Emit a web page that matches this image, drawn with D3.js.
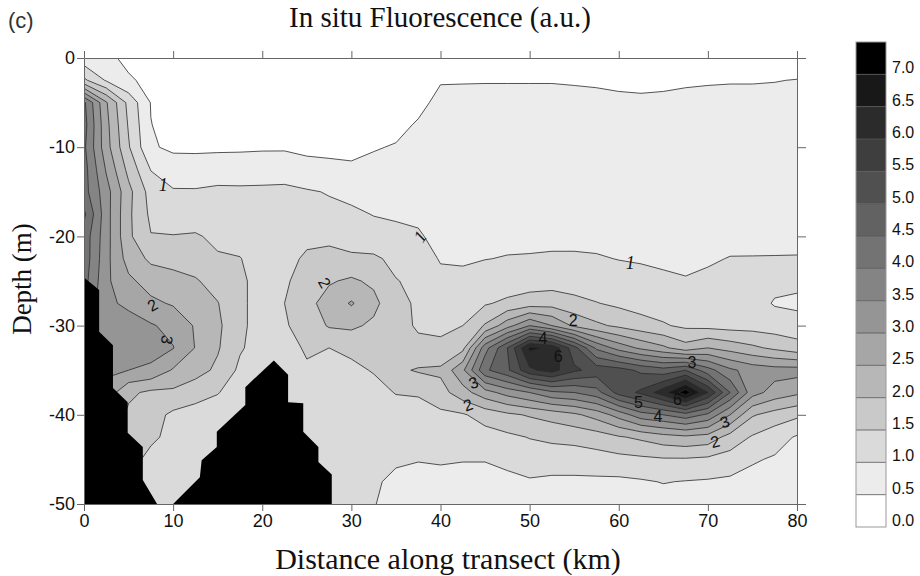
<!DOCTYPE html>
<html>
<head>
<meta charset="utf-8">
<script src="https://cdn.jsdelivr.net/npm/d3@7"></script>
<style>
  body { margin: 0; background: #fff; }
  svg text { font-family: "Liberation Sans", Arial, sans-serif; }
  .serif { font-family: "Liberation Serif", "Times New Roman", serif; }
</style>
</head>
<body>
<script>
// stations along the transect (km) and sampled depths (m)
var stationKm = [0, 2.5, 5, 7.5, 10, 12.5, 15, 17.5, 20, 22.5, 25, 27.5, 30, 32.5, 35, 37.5,
                 40, 42.5, 45, 47.5, 50, 52.5, 55, 57.5, 60, 62.5, 65, 67.5, 70, 72.5, 75, 77.5, 80];
var depthM = [0, -2.5, -5, -7.5, -10, -12.5, -15, -17.5, -20, -22.5, -25, -27.5, -30,
              -32.5, -35, -37.5, -40, -42.5, -45, -47.5, -50];

// one fluorescence profile per station, top to bottom
var profiles = [
  [0.7, 1.6, 4.1, 4.2, 4.1, 4.2, 4.2, 4.6, 4.3, 4.3, 4.2, 4.0, 3.8, 3.6, 3.4, 3.2, 3.0, 2.8, 2.6, 2.4, 2.2],      // 0
  [0.6, 0.95, 2.55, 2.65, 2.7, 2.95, 3.2, 3.2, 3.2, 3.15, 3.1, 3.1, 3.3, 3.3, 3.1, 2.8, 2.5, 2.3, 2.1, 2.0, 1.9], // 2.5
  [0.4, 0.55, 1.35, 1.45, 1.55, 1.85, 2.15, 2.1, 2.1, 2.3, 2.6, 2.9, 3.2, 3.3, 3.0, 2.1, 1.9, 1.8, 1.7, 1.6, 1.5], // 5
  [0.3, 0.4, 0.48, 0.51, 0.55, 0.98, 1.3, 1.4, 1.52, 1.9, 2.3, 2.6, 3.05, 3.2, 2.9, 1.9, 1.7, 1.6, 1.35, 1.3, 1.3], // 7.5
  [0.3, 0.3, 0.3, 0.35, 0.42, 0.72, 1.05, 1.25, 1.52, 1.85, 2.15, 2.45, 2.85, 3.02, 2.45, 1.9, 1.4, 1.35, 1.3, 1.3, 1.3], // 10
  [0.3, 0.3, 0.3, 0.35, 0.42, 0.7, 1.05, 1.25, 1.55, 1.75, 2.05, 2.3, 2.45, 2.48, 2.2, 1.7, 1.3, 1.2, 1.2, 1.2, 1.2], // 12.5
  [0.3, 0.3, 0.3, 0.35, 0.42, 0.75, 1.1, 1.2, 1.4, 1.55, 1.8, 2.02, 2.1, 2.05, 1.9, 1.52, 1.3, 1.3, 1.3, 1.3, 1.3], // 15
  [0.3, 0.3, 0.3, 0.35, 0.42, 0.78, 1.08, 1.1, 1.3, 1.52, 1.6, 1.6, 1.6, 1.55, 1.4, 1.3, 1.2, 1.2, 1.2, 1.2, 1.2], // 17.5
  [0.3, 0.3, 0.3, 0.35, 0.42, 0.88, 1.05, 1.15, 1.2, 1.25, 1.3, 1.3, 1.3, 1.3, 1.25, 1.2, 1.2, 1.2, 1.2, 1.2, 1.2], // 20
  [0.3, 0.3, 0.3, 0.35, 0.42, 0.9, 1.05, 1.15, 1.2, 1.3, 1.4, 1.5, 1.45, 1.35, 1.3, 1.35, 1.35, 1.3, 1.3, 1.3, 1.3], // 22.5
  [0.3, 0.3, 0.3, 0.35, 0.42, 0.62, 1.05, 1.15, 1.35, 1.6, 1.8, 1.85, 1.7, 1.55, 1.45, 1.4, 1.4, 1.3, 1.3, 1.3, 1.3], // 25
  [0.3, 0.3, 0.3, 0.35, 0.42, 0.58, 0.97, 1.12, 1.35, 1.7, 1.95, 2.2, 2.05, 1.5, 1.35, 1.25, 1.2, 1.2, 1.2, 1.2, 1.2], // 27.5
  [0.3, 0.3, 0.3, 0.35, 0.42, 0.55, 0.85, 1.1, 1.25, 1.6, 2.08, 2.55, 2.1, 1.6, 1.4, 1.25, 1.2, 1.15, 1.1, 1.05, 1.05], // 30
  [0.3, 0.3, 0.3, 0.35, 0.48, 0.58, 0.75, 0.98, 1.2, 1.58, 1.9, 2.15, 1.9, 1.65, 1.53, 1.35, 1.2, 1.15, 1.1, 1.05, 1.02], // 32.5
  [0.3, 0.3, 0.3, 0.42, 0.52, 0.65, 0.85, 0.95, 1.1, 1.38, 1.52, 1.6, 1.65, 1.7, 1.9, 1.52, 1.3, 1.2, 1.05, 0.92, 0.85], // 35
  [0.3, 0.35, 0.42, 0.53, 0.68, 0.8, 0.88, 0.95, 1.03, 1.2, 1.4, 1.45, 1.45, 1.6, 2.05, 1.55, 1.3, 1.15, 1.02, 0.85, 0.8], // 37.5
  [0.35, 0.48, 0.58, 0.65, 0.75, 0.8, 0.85, 0.9, 0.92, 0.97, 1.1, 1.3, 1.45, 1.55, 2.1, 1.8, 1.4, 1.2, 1.05, 0.85, 0.8], // 40
  [0.3, 0.48, 0.6, 0.65, 0.7, 0.75, 0.8, 0.85, 0.9, 0.95, 1.1, 1.3, 1.5, 1.85, 2.9, 2.3, 1.45, 1.25, 1.02, 0.85, 0.78], // 42.5
  [0.3, 0.48, 0.62, 0.65, 0.7, 0.75, 0.8, 0.85, 0.9, 0.99, 1.2, 1.45, 2.05, 3.8, 4.4, 2.8, 1.7, 1.3, 1.02, 0.85, 0.75], // 45
  [0.3, 0.48, 0.62, 0.65, 0.7, 0.75, 0.8, 0.85, 0.9, 1.02, 1.22, 1.6, 2.8, 5.0, 4.9, 3.2, 1.9, 1.4, 1.1, 0.9, 0.8], // 47.5
  [0.3, 0.48, 0.62, 0.65, 0.7, 0.75, 0.8, 0.85, 0.9, 1.03, 1.25, 1.75, 3.5, 6.6, 5.9, 3.5, 2.05, 1.52, 1.25, 0.95, 0.85], // 50
  [0.3, 0.48, 0.62, 0.65, 0.7, 0.75, 0.8, 0.85, 0.9, 1.05, 1.28, 1.8, 3.0, 6.4, 6.2, 3.9, 2.2, 1.6, 1.25, 0.9, 0.8], // 52.5
  [0.3, 0.47, 0.6, 0.65, 0.7, 0.75, 0.8, 0.85, 0.9, 1.05, 1.25, 1.65, 2.4, 5.2, 5.6, 4.0, 2.4, 1.65, 1.25, 0.9, 0.8], // 55
  [0.3, 0.46, 0.58, 0.65, 0.7, 0.75, 0.8, 0.85, 0.9, 1.03, 1.2, 1.52, 2.1, 3.9, 5.3, 4.3, 2.7, 1.75, 1.3, 0.9, 0.8], // 57.5
  [0.3, 0.44, 0.56, 0.63, 0.7, 0.75, 0.8, 0.85, 0.9, 0.99, 1.15, 1.4, 1.9, 3.3, 5.2, 5.2, 3.2, 1.95, 1.35, 0.9, 0.8], // 60
  [0.3, 0.43, 0.55, 0.63, 0.7, 0.75, 0.8, 0.85, 0.9, 0.97, 1.1, 1.3, 1.7, 2.9, 4.9, 5.6, 3.8, 2.1, 1.4, 0.95, 0.8], // 62.5
  [0.3, 0.44, 0.56, 0.63, 0.7, 0.75, 0.8, 0.85, 0.9, 0.95, 1.05, 1.25, 1.55, 2.6, 4.7, 6.3, 4.0, 2.3, 1.45, 1.02, 0.8], // 65
  [0.3, 0.46, 0.58, 0.65, 0.7, 0.75, 0.8, 0.85, 0.9, 0.93, 1.02, 1.2, 1.4, 2.2, 5.0, 7.3, 4.3, 2.4, 1.45, 0.98, 0.85], // 67.5
  [0.3, 0.47, 0.6, 0.66, 0.72, 0.77, 0.82, 0.86, 0.9, 0.97, 1.05, 1.2, 1.35, 2.5, 4.2, 6.0, 3.9, 2.3, 1.4, 0.95, 0.8], // 70
  [0.3, 0.48, 0.6, 0.67, 0.73, 0.78, 0.83, 0.87, 0.92, 1.01, 1.1, 1.2, 1.3, 2.3, 3.6, 4.5, 3.0, 1.8, 1.3, 0.9, 0.8], // 72.5
  [0.3, 0.48, 0.6, 0.67, 0.73, 0.78, 0.83, 0.88, 0.93, 1.01, 1.12, 1.2, 1.3, 2.1, 3.3, 3.2, 2.05, 1.45, 1.05, 0.85, 0.75], // 75
  [0.3, 0.49, 0.6, 0.68, 0.74, 0.79, 0.84, 0.89, 0.94, 1.01, 1.13, 0.96, 1.25, 1.9, 3.2, 2.8, 1.8, 1.2, 0.95, 0.8, 0.72], // 77.5
  [0.3, 0.51, 0.6, 0.68, 0.74, 0.8, 0.85, 0.9, 0.95, 1.01, 1.12, 0.9, 1.2, 1.7, 3.2, 2.6, 1.6, 0.95, 0.8, 0.72, 0.7]   // 80
];

// contour levels and the grey of each band (band starts at that level)
var levels = [0, 0.5, 1.0, 1.5, 2.0, 2.5, 3.0, 3.5, 4.0, 4.5, 5.0, 5.5, 6.0, 6.5, 7.0];
var bandGrays = ["#ffffff", "#ececec", "#dadada", "#c9c9c9", "#b7b7b7", "#a6a6a6", "#959595",
                 "#848484", "#737373", "#626262", "#505050", "#3e3e3e", "#2b2b2b", "#181818", "#000000"];

// sea floor (black) outlines, [km, depth]
var floorNear = [[0, -24.6], [1.7, -26], [1.7, -30.7], [3.25, -32.2], [3.25, -37], [4.9, -38.6],
                 [4.9, -42], [6.6, -43.6], [6.6, -47.3], [8.2, -50], [0, -50]];
var floorBank = [[10, -50], [13, -47], [13.2, -45.1], [14.9, -43.6], [14.9, -41.9], [18.1, -38.9],
                 [18.1, -36.9], [21.3, -33.9], [22.9, -35.5], [22.9, -38.6], [24.6, -38.7], [24.6, -41.9],
                 [26.3, -43.6], [26.3, -45.3], [27.8, -46.7], [27.8, -50]];

// in-line contour labels: km, depth, text, rotation
var contourLabels = [
  [8.9, -14.2, "1", 0], [37.7, -20.0, "1", -55], [61.3, -22.9, "1", 0],
  [7.7, -27.7, "2", -30], [9.3, -31.6, "3", 100], [27.0, -25.2, "2", 60],
  [54.9, -29.4, "2", 0], [51.5, -31.4, "4", 0], [53.2, -33.5, "6", 0],
  [43.7, -36.4, "3", -20], [43.1, -38.9, "2", -20],
  [68.2, -34.1, "3", 0], [62.2, -38.6, "5", 0], [66.6, -38.3, "6", 0],
  [64.4, -40.2, "4", 0], [71.9, -40.8, "3", -20], [70.8, -43.0, "2", -15]
];

var xTicks = [0, 10, 20, 30, 40, 50, 60, 70, 80];
var yTicks = [0, -10, -20, -30, -40, -50];
var barTicks = [0, 0.5, 1.0, 1.5, 2.0, 2.5, 3.0, 3.5, 4.0, 4.5, 5.0, 5.5, 6.0, 6.5, 7.0];

var width = 920, height = 576;
var svg = d3.select("body").append("svg").attr("width", width).attr("height", height);

var x = d3.scaleLinear().domain([0, 80]).range([84, 797]);
var y = d3.scaleLinear().domain([0, -50]).range([58, 504]);

// flatten profiles into the row-major grid d3.contours wants
var nx = stationKm.length, ny = depthM.length;
var grid = new Array(nx * ny);
profiles.forEach(function(p, i) {
  p.forEach(function(v, j) { grid[j * nx + i] = v; });
});
var contours = d3.contours().size([nx, ny]).thresholds(levels)(grid);

var gxToKm = d3.scaleLinear().domain([0.5, nx - 0.5]).range([stationKm[0], stationKm[nx - 1]]);
var gyToDepth = d3.scaleLinear().domain([0.5, ny - 0.5]).range([depthM[0], depthM[ny - 1]]);
var proj = d3.geoTransform({
  point: function(gx, gy) { this.stream.point(x(gxToKm(gx)), y(gyToDepth(gy))); }
});
var path = d3.geoPath(proj);

svg.append("clipPath").attr("id", "plotclip")
  .append("rect").attr("x", x(0)).attr("y", y(0))
  .attr("width", x(80) - x(0)).attr("height", y(-50) - y(0));

var plot = svg.append("g").attr("clip-path", "url(#plotclip)");

plot.append("g").selectAll("path")
  .data(contours).enter().append("path")
  .attr("d", path)
  .attr("fill", function(d, i) { return bandGrays[i]; })
  .attr("stroke", "none");

plot.append("g").selectAll("path")
  .data(contours.filter(function(d) { return d.value > 0; })).enter().append("path")
  .attr("d", path)
  .attr("fill", "none")
  .attr("stroke", "#2a2a2a")
  .attr("stroke-width", 0.8)
  .attr("stroke-linejoin", "round");

var floorLine = d3.line().x(function(d) { return x(d[0]); }).y(function(d) { return y(d[1]); });
plot.append("path").attr("d", floorLine(floorNear) + "Z").attr("fill", "#000");
plot.append("path").attr("d", floorLine(floorBank) + "Z").attr("fill", "#000");

// contour labels
plot.append("g").selectAll("text")
  .data(contourLabels).enter().append("text")
  .attr("transform", function(d) { return "translate(" + x(d[0]) + "," + y(d[1]) + ") rotate(" + d[3] + ")"; })
  .attr("text-anchor", "middle")
  .attr("dy", "0.35em")
  .attr("class", function(d) { return d[2] === "1" ? "serif" : null; })
  .style("font-style", function(d) { return d[2] === "1" ? "italic" : "normal"; })
  .style("font-size", function(d) { return d[2] === "1" ? "18px" : "16px"; })
  .attr("fill", "#111")
  .text(function(d) { return d[2]; });

// axes on all four sides, ticks pointing outward
function styleAxis(g) {
  g.selectAll(".domain").attr("stroke", "#666");
  g.selectAll(".tick line").attr("stroke", "#666");
  g.selectAll(".tick text").attr("fill", "#111").style("font-size", "18px")
    .style("font-family", "'Liberation Sans', Arial, sans-serif");
}
svg.append("g").attr("transform", "translate(0," + y(-50) + ")")
  .call(d3.axisBottom(x).tickValues(xTicks).tickSize(7).tickPadding(3).tickSizeOuter(0)
    .tickFormat(function(d) { return String(d); }))
  .call(styleAxis);
svg.append("g").attr("transform", "translate(0," + y(0) + ")")
  .call(d3.axisTop(x).tickValues(xTicks).tickSize(7).tickSizeOuter(0).tickFormat(""))
  .call(styleAxis);
svg.append("g").attr("transform", "translate(" + x(0) + ",0)")
  .call(d3.axisLeft(y).tickValues(yTicks).tickSize(7).tickPadding(2).tickSizeOuter(0)
    .tickFormat(function(d) { return String(d); }))
  .call(styleAxis);
svg.append("g").attr("transform", "translate(" + x(80) + ",0)")
  .call(d3.axisRight(y).tickValues(yTicks).tickSize(9).tickSizeOuter(0).tickFormat(""))
  .call(styleAxis);

// titles
svg.append("text").attr("x", 8).attr("y", 28).style("font-size", "22px").attr("fill", "#333").text("(c)");
svg.append("text").attr("class", "serif").attr("x", 440).attr("y", 27).attr("text-anchor", "middle")
  .style("font-size", "29px").attr("fill", "#111").text("In situ Fluorescence (a.u.)");
svg.append("text").attr("class", "serif").attr("x", 448).attr("y", 569).attr("text-anchor", "middle")
  .style("font-size", "30px").attr("fill", "#111").text("Distance along transect (km)");
svg.append("text").attr("class", "serif").attr("transform", "translate(31,279) rotate(-90)")
  .attr("text-anchor", "middle").style("font-size", "27px").attr("fill", "#111").text("Depth (m)");

// colour bar
var cb = d3.scaleLinear().domain([0, 7.5]).range([527, 42]);
var bar = svg.append("g");
bar.selectAll("rect.band")
  .data(bandGrays).enter().append("rect").attr("class", "band")
  .attr("x", 856).attr("width", 30)
  .attr("y", function(d, i) { return cb(levels[i] + 0.5); })
  .attr("height", function(d, i) { return cb(levels[i]) - cb(levels[i] + 0.5); })
  .attr("fill", function(d) { return d; });
bar.selectAll("line.sep")
  .data(levels.slice(1)).enter().append("line").attr("class", "sep")
  .attr("x1", 856).attr("x2", 886)
  .attr("y1", function(d) { return cb(d); }).attr("y2", function(d) { return cb(d); })
  .attr("stroke", "#555").attr("stroke-width", 0.8);
bar.append("rect").attr("x", 856).attr("y", cb(7.5)).attr("width", 30)
  .attr("height", cb(0) - cb(7.5)).attr("fill", "none").attr("stroke", "#999");
bar.selectAll("text")
  .data(barTicks).enter().append("text")
  .attr("x", 892).attr("y", function(d) { return cb(d) - 1; })
  .style("font-size", "16px").attr("fill", "#111")
  .text(function(d) { return d.toFixed(1); });
</script>
</body>
</html>
